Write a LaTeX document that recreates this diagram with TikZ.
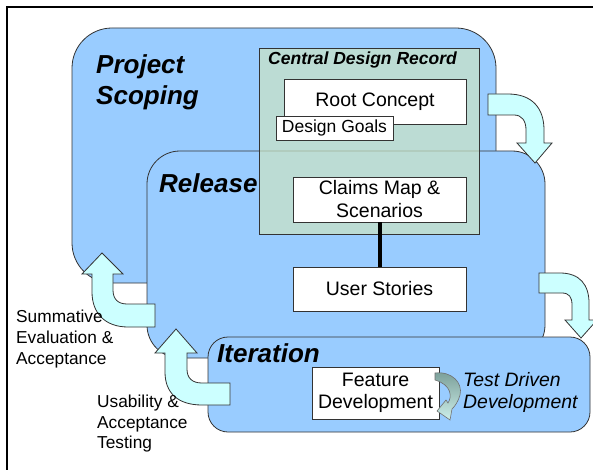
\documentclass[tikz,border=0pt]{standalone}
\usepackage{fontspec}
\setmainfont{Liberation Sans}
\definecolor{phase}{HTML}{99CCFF}
\definecolor{flow}{HTML}{CCFFFF}
\definecolor{cdr}{RGB}{203,227,194}
\definecolor{edge}{HTML}{333333}
\definecolor{tddtop}{HTML}{7A9E98}
\definecolor{tddbot}{HTML}{CDEFEA}
\begin{document}
\begin{tikzpicture}[x=1pt,y=-1pt,
 phasebox/.style={draw=edge, fill=phase, line width=0.8pt},
 whitebox/.style={draw=edge, fill=white, line width=0.8pt, inner sep=0pt, align=center, font=\fontsize{19.5}{23}\selectfont},
 flowarrow/.style={draw=edge, fill=flow, line width=0.8pt, line join=miter},
 heading/.style={anchor=base west, inner sep=0pt, font=\fontsize{26}{31}\selectfont\bfseries\itshape},
 lbl/.style={anchor=base west, inner sep=0pt, font=\fontsize{17.3}{21}\selectfont},
 tddlbl/.style={anchor=base west, inner sep=0pt, font=\fontsize{19.4}{22}\selectfont\itshape},
]
\useasboundingbox (0,0) rectangle (593,470);
% frame
\draw[line width=1.5pt] (7,470) -- (7,7) -- (593,7);
% phase boxes
\draw[phasebox, rounded corners=40pt] (72,28) rectangle (496,283);
\draw[phasebox, rounded corners=33pt] (147,151) rectangle (545,358);
\draw[draw=edge, line width=0.8pt, fill=cdr, fill opacity=0.7] (259,48) rectangle (479,234);
\draw[phasebox, rounded corners=20pt] (208,337) rectangle (590,432);
% headings
\node[heading] (hproj) at (96,73.5) {Project};
\node[heading] (hscop) at (96,105) {Scoping};
\node[heading] (hrel) at (159,193) {Release};
\node[heading] (hit) at (217,362) {Iteration};
\node[anchor=base west, inner sep=0pt, font=\fontsize{17.5}{21}\selectfont\bfseries\itshape] (hcdr) at (268,65) {Central Design Record};
% white boxes
\node[whitebox, minimum width=182pt, minimum height=45pt] (root) at (375,101.5) {Root Concept};
\node[whitebox, minimum width=117pt, minimum height=24pt, font=\fontsize{17.5}{21}\selectfont] (goals) at (334.5,128) {Design Goals};
\node[whitebox, minimum width=173pt, minimum height=45pt] (claims) at (379.5,199.5) {Claims Map \&\\Scenarios};
\node[whitebox, minimum width=173pt, minimum height=44pt] (stories) at (379.5,289) {User Stories};
\node[whitebox, minimum width=127pt, minimum height=52pt, font=\fontsize{19.5}{22}\selectfont] (feature) at (375.5,393) {Feature\\Development};
\draw[line width=4pt] (claims.south) -- (stories.north);
% flow arrows
\draw[flowarrow] (488,94) -- (508,94) .. controls (532,94) and (544,108) .. (544,130) -- (544,143) -- (552,143) -- (535,163) -- (517,143) -- (526,143) -- (526,130) .. controls (526,121) and (522,115) .. (514,115) -- (488,115) -- cycle;
\draw[flowarrow] (539,273) -- (560,273) .. controls (580,273) and (589,285) .. (589,303) -- (589,320) -- (597,320) -- (581,338) -- (565,320) -- (572,320) -- (572,305) .. controls (572,297) and (569,293) .. (562,293) -- (539,293) -- cycle;
\draw[flowarrow] (155,304) -- (127,304) .. controls (118,304) and (113,299) .. (113,290) -- (113,274) -- (123,274) -- (102,253) -- (82,274) -- (92,274) -- (92,292) .. controls (92,313) and (105,327) .. (128,327) -- (155,327) -- cycle;
\draw[flowarrow] (230,383) -- (202,383) .. controls (192,383) and (187,378) .. (187,369) -- (187,353) -- (197,353) -- (176,329) -- (155,353) -- (165,353) -- (165,372) .. controls (165,393) and (178,405) .. (202,405) -- (230,405) -- cycle;
% test driven development arrow
\draw[draw=edge!70, line width=0.6pt, top color=tddtop, bottom color=tddbot] (435,373) .. controls (452,371) and (463,383) .. (460,395) .. controls (458,402) and (455,406) .. (452,409) -- (450,420) -- (437,411) -- (446,400) -- (448,403) .. controls (452,397) and (452,385) .. (435,380) -- cycle;
% labels
\node[tddlbl] (tdd1) at (463,386) {Test Driven};
\node[tddlbl] (tdd2) at (463,408) {Development};
\node[lbl] (sum1) at (16,322) {Summative};
\node[lbl] (sum2) at (16,343) {Evaluation \&};
\node[lbl] (sum3) at (16,364) {Acceptance};
\node[lbl] (use1) at (97,407) {Usability \&};
\node[lbl] (use2) at (97,428) {Acceptance};
\node[lbl] (use3) at (97,448) {Testing};
\end{tikzpicture}
\end{document}
